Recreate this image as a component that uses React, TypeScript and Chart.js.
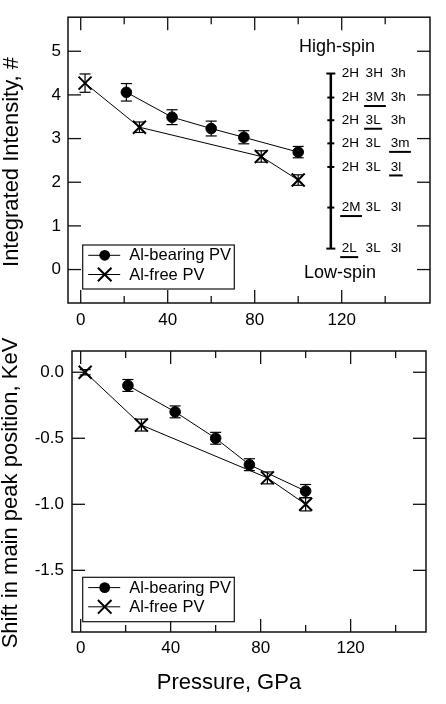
import React, { useEffect, useRef } from "react";
import { Chart, registerables } from "chart.js";

Chart.register(...registerables);

const FONT = "'Liberation Sans', Arial, Helvetica, sans-serif";
Chart.defaults.font.family = FONT;
Chart.defaults.color = "#000";

// ---------- data ----------
const pressureBearing = [21, 42, 60, 75, 100];
const pressureFree = [2, 27, 83, 100];

const intensityBearing = [4.06, 3.49, 3.23, 3.03, 2.69];
const intensityBearingErr = [0.2, 0.17, 0.17, 0.15, 0.13];
const intensityFree = [4.27, 3.26, 2.59, 2.05];
const intensityFreeErr = [0.21, 0.12, 0.13, 0.12];

const shiftBearing = [-0.1, -0.3, -0.5, -0.7, -0.9];
const shiftBearingErr = [0.045, 0.045, 0.045, 0.045, 0.05];
const shiftFree = [0.0, -0.4, -0.8, -1.0];
const shiftFreeErr = [0.02, 0.045, 0.045, 0.05];

const xMajorTicks = [0, 40, 80, 120];
const xMinorTicks = [20, 60, 100, 140];
const intensityTicks = [0, 1, 2, 3, 4, 5];
const shiftTicks = [0, -0.5, -1.0, -1.5];

const seriesLabels = ["Al-bearing PV", "Al-free PV"];

const spinLevels = [4.49, 3.94, 3.42, 2.89, 2.35, 1.42, 0.48];
const spinLabels = [
  ["2H", "3H", "3h"],
  ["2H", "3M", "3h"],
  ["2H", "3L", "3h"],
  ["2H", "3L", "3m"],
  ["2H", "3L", "3l"],
  ["2M", "3L", "3l"],
  ["2L", "3L", "3l"],
];
const spinUnderlined = [-1, 1, 1, 2, 2, 0, 0];
const spinTitles = ["High-spin", "Low-spin"];

// ---------- helpers ----------
function line(ctx: CanvasRenderingContext2D, x1: number, y1: number, x2: number, y2: number) {
  ctx.beginPath();
  ctx.moveTo(x1, y1);
  ctx.lineTo(x2, y2);
  ctx.stroke();
}

function drawCross(ctx: CanvasRenderingContext2D, x: number, y: number, h: number) {
  ctx.beginPath();
  ctx.moveTo(x - h, y - h);
  ctx.lineTo(x + h, y + h);
  ctx.moveTo(x - h, y + h);
  ctx.lineTo(x + h, y - h);
  ctx.stroke();
}

function framePlugin(yTicks: number[]) {
  return {
    id: "frame",
    afterDraw(chart: any) {
      const { ctx, chartArea: a, scales } = chart;
      ctx.save();
      ctx.strokeStyle = "#111";
      ctx.lineWidth = 1.5;
      ctx.strokeRect(a.left, a.top, a.right - a.left, a.bottom - a.top);
      ctx.lineWidth = 1.3;
      for (const v of xMajorTicks) {
        const px = scales.x.getPixelForValue(v);
        line(ctx, px, a.top, px, a.top + 13);
        line(ctx, px, a.bottom, px, a.bottom - 13);
      }
      for (const v of xMinorTicks) {
        const px = scales.x.getPixelForValue(v);
        line(ctx, px, a.top, px, a.top + 7);
        line(ctx, px, a.bottom, px, a.bottom - 7);
      }
      for (const v of yTicks) {
        const py = scales.y.getPixelForValue(v);
        line(ctx, a.left, py, a.left + 13, py);
        line(ctx, a.right, py, a.right - 13, py);
      }
      ctx.restore();
    },
  };
}

type ErrSeries = { xs: number[]; ys: number[]; errs: number[] };

function errorBarPlugin(series: ErrSeries[]) {
  return {
    id: "errorBars",
    afterDatasetsDraw(chart: any) {
      const { ctx, scales } = chart;
      ctx.save();
      ctx.strokeStyle = "#000";
      ctx.lineWidth = 1.2;
      for (const s of series) {
        s.xs.forEach((xv, i) => {
          const px = scales.x.getPixelForValue(xv);
          const top = scales.y.getPixelForValue(s.ys[i] + s.errs[i]);
          const bot = scales.y.getPixelForValue(s.ys[i] - s.errs[i]);
          line(ctx, px, top, px, bot);
          line(ctx, px - 5.5, top, px + 5.5, top);
          line(ctx, px - 5.5, bot, px + 5.5, bot);
        });
      }
      ctx.restore();
    },
  };
}

function legendPlugin(box: { x: number; y: number; w: number; h: number }) {
  return {
    id: "customLegend",
    afterDraw(chart: any) {
      const { ctx } = chart;
      ctx.save();
      ctx.fillStyle = "#fff";
      ctx.fillRect(box.x, box.y, box.w, box.h);
      ctx.strokeStyle = "#111";
      ctx.lineWidth = 1.2;
      ctx.strokeRect(box.x, box.y, box.w, box.h);
      const rows = [box.y + 10.3, box.y + 29.5];
      chart.data.datasets.forEach((ds: any, i: number) => {
        const ry = rows[i];
        ctx.strokeStyle = "#000";
        ctx.lineWidth = 1;
        line(ctx, box.x + 5.5, ry, box.x + 37.5, ry);
        if (i === 0) {
          ctx.fillStyle = "#000";
          ctx.beginPath();
          ctx.arc(box.x + 22, ry, 5.4, 0, Math.PI * 2);
          ctx.fill();
        } else {
          ctx.lineWidth = 2;
          drawCross(ctx, box.x + 22, ry, 6.8);
        }
        ctx.fillStyle = "#000";
        ctx.font = `16.5px ${FONT}`;
        ctx.textAlign = "left";
        ctx.textBaseline = "middle";
        ctx.fillText(ds.label, box.x + 46.5, ry + 0.5);
      });
      ctx.restore();
    },
  };
}

function spinPlugin() {
  return {
    id: "spinLadder",
    afterDraw(chart: any) {
      const { ctx, scales } = chart;
      const xs = scales.x;
      const ys = scales.y;
      ctx.save();
      ctx.strokeStyle = "#000";
      ctx.fillStyle = "#000";
      const x0 = xs.getPixelForValue(115);
      const yTop = ys.getPixelForValue(spinLevels[0]);
      const yBot = ys.getPixelForValue(spinLevels[spinLevels.length - 1]);
      ctx.lineWidth = 2.5;
      line(ctx, x0, yTop, x0, yBot);
      ctx.lineWidth = 2;
      spinLevels.forEach((lv, i) => {
        const py = ys.getPixelForValue(lv);
        const half = i === 0 || i === spinLevels.length - 1 ? 4.5 : 3.5;
        line(ctx, x0 - half, py, x0 + half, py);
      });
      const cols = [120, 131, 142.5].map((v) => xs.getPixelForValue(v));
      ctx.font = `13.5px ${FONT}`;
      ctx.textAlign = "left";
      ctx.textBaseline = "middle";
      spinLabels.forEach((row, i) => {
        const py = ys.getPixelForValue(spinLevels[i]);
        row.forEach((lab, c) => {
          ctx.fillText(lab, cols[c], py);
          if (spinUnderlined[i] === c) {
            const w = ctx.measureText(lab).width;
            ctx.lineWidth = 2;
            line(ctx, cols[c] - 1.5, py + 8.5, cols[c] + w + 1.5, py + 8.5);
          }
        });
      });
      ctx.font = `18px ${FONT}`;
      ctx.textAlign = "center";
      ctx.fillText(spinTitles[0], xs.getPixelForValue(117.8), ys.getPixelForValue(5.1));
      ctx.fillText(spinTitles[1], xs.getPixelForValue(119.2), ys.getPixelForValue(-0.08));
      ctx.restore();
    },
  };
}

function titlesPlugin(yTitle: string, yPos: [number, number], xTitle?: string, xPos?: [number, number]) {
  return {
    id: "axisTitles",
    afterDraw(chart: any) {
      const { ctx } = chart;
      ctx.save();
      ctx.fillStyle = "#000";
      ctx.font = `22px ${FONT}`;
      ctx.textAlign = "center";
      ctx.textBaseline = "middle";
      ctx.translate(yPos[0], yPos[1]);
      ctx.rotate(-Math.PI / 2);
      ctx.fillText(yTitle, 0, 0);
      ctx.restore();
      if (xTitle && xPos) {
        ctx.save();
        ctx.fillStyle = "#000";
        ctx.font = `22px ${FONT}`;
        ctx.textAlign = "center";
        ctx.textBaseline = "middle";
        ctx.fillText(xTitle, xPos[0], xPos[1]);
        ctx.restore();
      }
    },
  };
}

function makeDatasets(yB: number[], yF: number[]) {
  return [
    {
      label: seriesLabels[0],
      data: pressureBearing.map((x, i) => ({ x, y: yB[i] })),
      showLine: true,
      borderColor: "#000",
      backgroundColor: "#000",
      borderWidth: 1,
      pointStyle: "circle",
      pointRadius: 5.3,
      pointBorderWidth: 1,
    },
    {
      label: seriesLabels[1],
      data: pressureFree.map((x, i) => ({ x, y: yF[i] })),
      showLine: true,
      borderColor: "#000",
      backgroundColor: "#000",
      borderWidth: 1,
      pointStyle: "crossRot",
      pointRadius: 9.2,
      pointBorderWidth: 2,
    },
  ];
}

function xScale(min: number, max: number, height: number, padding: number) {
  return {
    type: "linear",
    min,
    max,
    grid: { display: false, drawTicks: false },
    border: { display: false },
    afterBuildTicks: (s: any) => {
      s.ticks = xMajorTicks.map((v) => ({ value: v }));
    },
    afterFit: (s: any) => {
      s.height = height;
    },
    ticks: {
      font: { size: 17 },
      color: "#000",
      padding,
      maxRotation: 0,
      autoSkip: false,
    },
  };
}

function yScale(min: number, max: number, ticks: number[], width: number, padding: number, fmt: (v: number) => string) {
  return {
    type: "linear",
    min,
    max,
    grid: { display: false, drawTicks: false },
    border: { display: false },
    afterBuildTicks: (s: any) => {
      s.ticks = ticks.map((v) => ({ value: v }));
    },
    afterFit: (s: any) => {
      s.width = width;
    },
    ticks: {
      font: { size: 17 },
      color: "#000",
      padding,
      autoSkip: false,
      callback: (v: any) => fmt(Number(v)),
    },
  };
}

function topConfig(): any {
  return {
    type: "scatter",
    data: { datasets: makeDatasets(intensityBearing, intensityFree) },
    options: {
      responsive: false,
      animation: false,
      events: [],
      layout: { padding: { left: 0, top: 15, right: 16, bottom: 0 } },
      plugins: { legend: { display: false }, tooltip: { enabled: false } },
      scales: {
        x: xScale(-5.84, 160.6, 42, 6.8),
        y: yScale(-0.766, 5.78, intensityTicks, 68, 7, (v) => String(v)),
      },
    },
    plugins: [
      errorBarPlugin([
        { xs: pressureBearing, ys: intensityBearing, errs: intensityBearingErr },
        { xs: pressureFree, ys: intensityFree, errs: intensityFreeErr },
      ]),
      framePlugin(intensityTicks),
      spinPlugin(),
      legendPlugin({ x: 82.7, y: 245, w: 151.6, h: 44 }),
      titlesPlugin("Integrated Intensity, #", [12, 162]),
    ],
  };
}

// bottom canvas starts at page y = 320 (overlaps transparently with the top one)
function bottomConfig(): any {
  return {
    type: "scatter",
    data: { datasets: makeDatasets(shiftBearing, shiftFree) },
    options: {
      responsive: false,
      animation: false,
      events: [],
      layout: { padding: { left: 0, top: 31, right: 20, bottom: 0 } },
      plugins: { legend: { display: false }, tooltip: { enabled: false } },
      scales: {
        x: xScale(-3.85, 153.5, 72, 5.8),
        y: yScale(-1.967, 0.161, shiftTicks, 72, 8, (v) => v.toFixed(1)),
      },
    },
    plugins: [
      errorBarPlugin([
        { xs: pressureBearing, ys: shiftBearing, errs: shiftBearingErr },
        { xs: pressureFree, ys: shiftFree, errs: shiftFreeErr },
      ]),
      framePlugin(shiftTicks),
      legendPlugin({ x: 82.7, y: 257.3, w: 151.6, h: 44.4 }),
      titlesPlugin("Shift in main peak position, KeV", [11, 173], "Pressure, GPa", [229, 363]),
    ],
  };
}

function Panel({ width, height, config }: { width: number; height: number; config: () => any }) {
  const ref = useRef<HTMLCanvasElement>(null);
  useEffect(() => {
    if (!ref.current) return;
    const chart = new Chart(ref.current, config());
    return () => chart.destroy();
  }, []);
  return <canvas ref={ref} width={width} height={height} style={{ display: "block", width, height }} />;
}

export default function App() {
  return (
    <div style={{ position: "fixed", left: 0, top: 0, width: 446, height: 704, background: "#fff" }}>
      <div style={{ position: "absolute", left: 0, top: 320, width: 446, height: 384 }}>
        <Panel width={446} height={384} config={bottomConfig} />
      </div>
      <div style={{ position: "absolute", left: 0, top: 0, width: 446, height: 345 }}>
        <Panel width={446} height={345} config={topConfig} />
      </div>
    </div>
  );
}
